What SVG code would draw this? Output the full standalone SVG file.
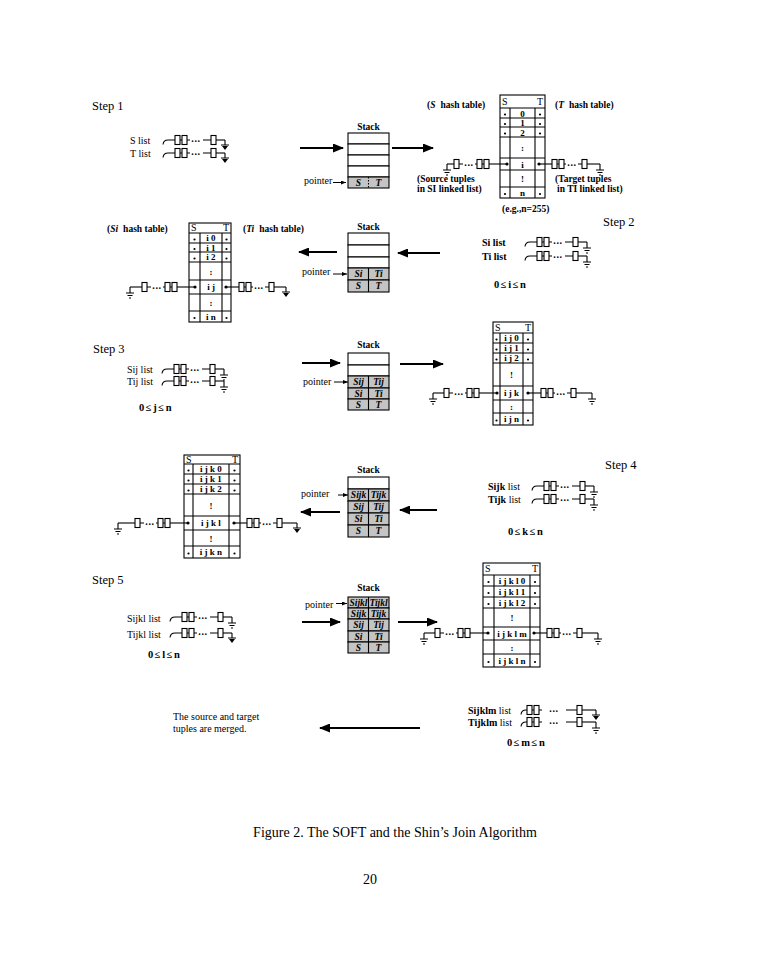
<svg xmlns="http://www.w3.org/2000/svg" width="760" height="977" viewBox="0 0 760 977">
<style>
 text{font-family:"Liberation Serif","Times New Roman",serif;fill:#000}
 .st{font-size:12.5px}
 .l{font-size:10px}
 .b{font-weight:bold}
 .ln{stroke:#000;stroke-width:1.1;fill:none}
 .cell{fill:#fff;stroke:#000;stroke-width:1.1}
 .sh{fill:#c4c4c4;stroke:#000;stroke-width:1.1}
 .tc{font-size:9px;font-weight:bold;text-anchor:middle}
 .sc{font-size:9.5px;font-weight:bold;font-style:italic;text-anchor:middle}
 .ar{stroke:#000;stroke-width:2;fill:none;marker-end:url(#ah)}
 .pa{stroke:#000;stroke-width:1;fill:none;marker-end:url(#sah)}
 .dt{font-size:10px;font-weight:bold;text-anchor:middle;letter-spacing:0.6px}
 .dot{fill:#000}
 .rng{font-size:10.5px;font-weight:bold;letter-spacing:1.6px}
</style>
<defs>
 <marker id="ah" markerUnits="userSpaceOnUse" markerWidth="11" markerHeight="9" refX="10" refY="4.5" orient="auto"><path d="M0,0 L11,4.5 L0,9 Z" fill="#000"/></marker>
 <marker id="sah" markerUnits="userSpaceOnUse" markerWidth="5" markerHeight="4" refX="5" refY="2" orient="auto"><path d="M0,0 L5,2 L0,4 Z" fill="#000"/></marker>
 <g id="li" class="ln">
  <path d="M0,4.5 Q0.5,0 5,0 H12"/>
  <rect x="12" y="-4.5" width="5" height="9"/>
  <path d="M17,0 H19"/>
  <rect x="19" y="-4.5" width="5" height="9"/>
  <path d="M24,0 H27 M40,0 H48"/>
  <rect x="48" y="-4.5" width="5" height="9"/>
  <path d="M53,0 H62"/>
 </g>
 <g id="liw" class="ln">
  <path d="M0,4.5 Q0.5,0 5,0 H6"/>
  <rect x="6" y="-4.5" width="5" height="9"/>
  <path d="M11,0 H13"/>
  <rect x="13" y="-4.5" width="5" height="9"/>
  <path d="M18,0 H21 M45,0 H56"/>
  <rect x="56" y="-4.5" width="5" height="9"/>
  <path d="M61,0 H75"/>
 </g>
 <g id="gL" class="ln"><path d="M0,0 V6 M-4,6 H4 M-2.5,8.5 H2.5 M-1,11 H1"/></g>
 <g id="gT"><path class="ln" d="M0,0 V5 M-4,5 H4"/><path d="M-3,6 H3 L0,10 Z" fill="#000"/></g>
 <g id="cl">
  <circle r="1.6" fill="#000"/>
  <g class="ln">
   <path d="M0,0 H-18"/>
   <rect x="-23" y="-4.5" width="5" height="9"/>
   <path d="M-23,0 H-25"/>
   <rect x="-30" y="-4.5" width="5" height="9"/>
   <path d="M-30,0 H-32 M-44,0 H-48"/>
   <rect x="-53" y="-4.5" width="5" height="9"/>
  </g>
 </g>
 <g id="cr">
  <circle r="1.6" fill="#000"/>
  <g class="ln">
   <path d="M0,0 H13"/>
   <rect x="13" y="-4.5" width="5" height="9"/>
   <path d="M18,0 H20"/>
   <rect x="20" y="-4.5" width="5" height="9"/>
   <path d="M25,0 H27 M39,0 H43"/>
   <rect x="43" y="-4.5" width="5" height="9"/>
  </g>
 </g>
</defs>
<rect width="760" height="977" fill="#fff"/>

<!-- ===== Step 1 ===== -->
<g id="step1-label"><text class="st" x="92" y="110">Step 1</text></g>
<g id="step1-lists">
 <text class="l" x="130" y="143.5">S list</text>
 <use href="#li" x="163" y="140"/><use href="#gT" x="225" y="140"/><text class="dt" x="196" y="141.5">...</text>
 <text class="l" x="130" y="156.5">T list</text>
 <use href="#li" x="163" y="153"/><use href="#gT" x="225" y="153"/><text class="dt" x="196" y="154.5">...</text>
</g>
<g id="stack1">
 <text class="b" x="368.5" y="130" font-size="9.5" text-anchor="middle">Stack</text>
 <rect class="cell" x="348" y="133" width="41" height="11"/>
 <rect class="cell" x="348" y="144" width="41" height="11"/>
 <rect class="cell" x="348" y="155" width="41" height="11"/>
 <rect class="cell" x="348" y="166" width="41" height="11"/>
 <rect class="sh" x="348" y="177" width="41" height="11"/>
 <path class="ln" d="M368.5,177V188" stroke-dasharray="1.5,1.5"/>
 <text class="sc" x="358.5" y="185.8">S</text><text class="sc" x="378.5" y="185.8">T</text>
 <text class="l" x="304" y="184" font-size="9.5">pointer</text>
</g>
<g id="hash1">
 <text class="b" x="427" y="108" font-size="9.5">(<tspan font-style="italic">S</tspan><tspan dx="5">hash table)</tspan></text>
 <text class="b" x="555" y="108" font-size="9.5">(<tspan font-style="italic">T</tspan><tspan dx="5">hash table)</tspan></text>
 <rect class="cell" x="500" y="95" width="45" height="103"/>
 <path class="ln" d="M500,108H545 M500,118H545 M500,127H545 M500,137H545 M500,158H545 M500,170H545 M500,187H545 M510,108V198 M535,108V198"/>
 <text class="l" x="502" y="105">S</text><text class="l" x="543" y="105" text-anchor="end">T</text>
 <text class="tc" x="522.5" y="116.5" font-size="10">0</text>
 <text class="tc" x="522.5" y="126" font-size="10">1</text>
 <text class="tc" x="522.5" y="135.5" font-size="10">2</text>
 <text class="tc" x="522.5" y="151" font-size="10">:</text>
 <text class="tc" x="522.5" y="167.5" font-size="10">i</text>
 <text class="tc" x="522.5" y="182" font-size="10">!</text>
 <text class="tc" x="522.5" y="196" font-size="10">n</text>
 <g class="dot"><circle cx="505" cy="114.5" r="1.1"/><circle cx="540" cy="114.5" r="1.1"/><circle cx="505" cy="124" r="1.1"/><circle cx="540" cy="124" r="1.1"/><circle cx="505" cy="133.5" r="1.1"/><circle cx="540" cy="133.5" r="1.1"/><circle cx="505" cy="194" r="1.1"/><circle cx="540" cy="194" r="1.1"/></g>
 <use href="#cl" x="507" y="164"/><path class="ln" d="M454,164H447"/><use href="#gL" x="447" y="164"/><text class="dt" x="469" y="165.5">...</text>
 <use href="#cr" x="539" y="164"/><path class="ln" d="M587,164H600"/><use href="#gL" x="600" y="164"/><text class="dt" x="572" y="165.5">...</text>
 <text class="b" x="417" y="181.5" font-size="9.5">(Source tuples</text>
 <text class="b" x="417" y="191.5" font-size="9.5">in SI linked list)</text>
 <text class="b" x="555" y="181.5" font-size="9.5">(Target tuples</text>
 <text class="b" x="557" y="191.5" font-size="9.5">in TI linked list)</text>
 <text class="b" x="502" y="212" font-size="9.5">(e.g.,n=255)</text>
</g>

<!-- ===== Step 2 ===== -->
<g id="step2-label"><text class="st" x="603" y="226">Step 2</text></g>
<g id="step2-lists">
 <text class="l b" x="482" y="245.5">Si  list</text>
 <use href="#li" x="525" y="242"/><use href="#gL" x="587" y="242"/><text class="dt" x="558" y="243.5">...</text>
 <text class="l b" x="482" y="259.5">Ti  list</text>
 <use href="#li" x="525" y="256"/><use href="#gL" x="587" y="256"/><text class="dt" x="558" y="257.5">...</text>
 <text class="rng" x="494" y="288">0≤i≤n</text>
</g>
<g id="stack2">
 <text class="b" x="368.5" y="230" font-size="9.5" text-anchor="middle">Stack</text>
 <rect class="cell" x="348" y="233" width="41" height="12"/>
 <rect class="cell" x="348" y="245" width="41" height="12"/>
 <rect class="cell" x="348" y="257" width="41" height="11"/>
 <rect class="sh" x="348" y="268" width="41" height="12"/>
 <rect class="sh" x="348" y="280" width="41" height="12"/>
 <path class="ln" d="M368.5,268V292"/>
 <text class="sc" x="358.5" y="277.3">Si</text><text class="sc" x="378.5" y="277.3">Ti</text>
 <text class="sc" x="358.5" y="289.3">S</text><text class="sc" x="378.5" y="289.3">T</text>
 <text class="l" x="302" y="275" font-size="9.5">pointer</text>
</g>
<g id="hash2">
 <text class="b" x="107" y="232" font-size="9.5">(<tspan font-style="italic">Si</tspan><tspan dx="5">hash table)</tspan></text>
 <text class="b" x="243" y="232" font-size="9.5">(<tspan font-style="italic">Ti</tspan><tspan dx="5">hash table)</tspan></text>
 <rect class="cell" x="189" y="223" width="42" height="99"/>
 <path class="ln" d="M189,233H231 M189,243H231 M189,252H231 M189,262H231 M189,280H231 M189,294H231 M189,311H231 M200,233V322 M222,233V322"/>
 <text class="l" x="191" y="231">S</text><text class="l" x="229" y="231" text-anchor="end">T</text>
 <text class="tc" x="211" y="241.3">i 0</text>
 <text class="tc" x="211" y="250.8">i 1</text>
 <text class="tc" x="211" y="260.3">i 2</text>
 <text class="tc" x="211" y="274.5">:</text>
 <text class="tc" x="211" y="290.3">i j</text>
 <text class="tc" x="211" y="306">:</text>
 <text class="tc" x="211" y="319.8">i n</text>
 <g class="dot"><circle cx="194.5" cy="239.5" r="1.1"/><circle cx="226.5" cy="239.5" r="1.1"/><circle cx="194.5" cy="249" r="1.1"/><circle cx="226.5" cy="249" r="1.1"/><circle cx="194.5" cy="258.5" r="1.1"/><circle cx="226.5" cy="258.5" r="1.1"/><circle cx="194.5" cy="318" r="1.1"/><circle cx="226.5" cy="318" r="1.1"/></g>
 <use href="#cl" x="195" y="287"/><path class="ln" d="M142,287H130"/><use href="#gL" x="130" y="287"/><text class="dt" x="157" y="288.5">...</text>
 <use href="#cr" x="226" y="287"/><path class="ln" d="M274,287H286"/><use href="#gT" x="286" y="287"/><text class="dt" x="259" y="288.5">...</text>
</g>

<!-- ===== Step 3 ===== -->
<g id="step3-label"><text class="st" x="93" y="353">Step 3</text></g>
<g id="step3-lists">
 <text class="l" x="127" y="372.5">Sij list</text>
 <use href="#li" x="162" y="369"/><use href="#gL" x="224" y="369"/><text class="dt" x="195" y="370.5">...</text>
 <text class="l" x="127" y="385">Tij list</text>
 <use href="#li" x="162" y="381"/><use href="#gL" x="224" y="381"/><text class="dt" x="195" y="382.5">...</text>
 <text class="rng" x="139" y="411">0≤j≤n</text>
</g>
<g id="stack3">
 <text class="b" x="368.5" y="348" font-size="9.5" text-anchor="middle">Stack</text>
 <rect class="cell" x="348" y="353" width="41" height="12"/>
 <rect class="cell" x="348" y="365" width="41" height="11"/>
 <rect class="sh" x="348" y="376" width="41" height="12"/>
 <rect class="sh" x="348" y="388" width="41" height="11"/>
 <rect class="sh" x="348" y="399" width="41" height="11"/>
 <path class="ln" d="M368.5,376V410"/>
 <text class="sc" x="358.5" y="385.3">Sij</text><text class="sc" x="378.5" y="385.3">Tij</text>
 <text class="sc" x="358.5" y="396.8">Si</text><text class="sc" x="378.5" y="396.8">Ti</text>
 <text class="sc" x="358.5" y="407.8">S</text><text class="sc" x="378.5" y="407.8">T</text>
 <text class="l" x="303" y="384.5" font-size="9.5">pointer</text>
</g>
<g id="hash3">
 <rect class="cell" x="493" y="322" width="40" height="103"/>
 <path class="ln" d="M493,333H533 M493,343H533 M493,353H533 M493,363H533 M493,386H533 M493,400H533 M493,413H533 M500,333V425 M523,333V425"/>
 <text class="l" x="495" y="330.5">S</text><text class="l" x="531" y="330.5" text-anchor="end">T</text>
 <text class="tc" x="511.5" y="341">i j 0</text>
 <text class="tc" x="511.5" y="351">i j 1</text>
 <text class="tc" x="511.5" y="361">i j 2</text>
 <text class="tc" x="511.5" y="378">!</text>
 <text class="tc" x="511.5" y="396">i j k</text>
 <text class="tc" x="511.5" y="409.5">:</text>
 <text class="tc" x="511.5" y="422">i j n</text>
 <g class="dot"><circle cx="496.5" cy="339.5" r="1.1"/><circle cx="528" cy="339.5" r="1.1"/><circle cx="496.5" cy="349.5" r="1.1"/><circle cx="528" cy="349.5" r="1.1"/><circle cx="496.5" cy="359.5" r="1.1"/><circle cx="528" cy="359.5" r="1.1"/><circle cx="496.5" cy="420.5" r="1.1"/><circle cx="528" cy="420.5" r="1.1"/></g>
 <use href="#cl" x="497" y="393"/><path class="ln" d="M444,393H433"/><use href="#gL" x="433" y="393"/><text class="dt" x="459" y="394.5">...</text>
 <use href="#cr" x="528" y="393"/><path class="ln" d="M576,393H592"/><use href="#gL" x="592" y="393"/><text class="dt" x="561" y="394.5">...</text>
</g>

<!-- ===== Step 4 ===== -->
<g id="step4-label"><text class="st" x="605" y="469">Step 4</text></g>
<g id="step4-lists">
 <text class="l" x="488" y="489.5"><tspan class="b">Sijk</tspan> list</text>
 <use href="#li" x="532" y="486"/><use href="#gL" x="594" y="486"/><text class="dt" x="565" y="487.5">...</text>
 <text class="l" x="488" y="502.5"><tspan class="b">Tijk</tspan> list</text>
 <use href="#li" x="532" y="499"/><use href="#gL" x="594" y="499"/><text class="dt" x="565" y="500.5">...</text>
 <text class="rng" x="508" y="535">0≤k≤n</text>
</g>
<g id="stack4">
 <text class="b" x="368.5" y="473" font-size="9.5" text-anchor="middle">Stack</text>
 <rect class="cell" x="348" y="477" width="41" height="12"/>
 <rect class="sh" x="348" y="489" width="41" height="12"/>
 <rect class="sh" x="348" y="501" width="41" height="12"/>
 <rect class="sh" x="348" y="513" width="41" height="12"/>
 <rect class="sh" x="348" y="525" width="41" height="12"/>
 <path class="ln" d="M368.5,489V537"/>
 <text class="sc" x="358.5" y="498.3">Sijk</text><text class="sc" x="378.5" y="498.3">Tijk</text>
 <text class="sc" x="358.5" y="510.3">Sij</text><text class="sc" x="378.5" y="510.3">Tij</text>
 <text class="sc" x="358.5" y="522.3">Si</text><text class="sc" x="378.5" y="522.3">Ti</text>
 <text class="sc" x="358.5" y="534.3">S</text><text class="sc" x="378.5" y="534.3">T</text>
 <text class="l" x="301" y="497" font-size="9.5">pointer</text>
</g>
<g id="hash4">
 <rect class="cell" x="184" y="455" width="56" height="103"/>
 <path class="ln" d="M184,464H240 M184,474H240 M184,484H240 M184,494H240 M184,516H240 M184,530H240 M184,546H240 M193,464V558 M229,464V558"/>
 <text class="l" x="186" y="462.5">S</text><text class="l" x="238" y="462.5" text-anchor="end">T</text>
 <text class="tc" x="211" y="472.3">i j k 0</text>
 <text class="tc" x="211" y="482.3">i j k 1</text>
 <text class="tc" x="211" y="492.3">i j k 2</text>
 <text class="tc" x="211" y="508.5">!</text>
 <text class="tc" x="211" y="526.3">i j k l</text>
 <text class="tc" x="211" y="541.5">!</text>
 <text class="tc" x="211" y="555.3">i j k n</text>
 <g class="dot"><circle cx="188.5" cy="470.5" r="1.1"/><circle cx="234.5" cy="470.5" r="1.1"/><circle cx="188.5" cy="480.5" r="1.1"/><circle cx="234.5" cy="480.5" r="1.1"/><circle cx="188.5" cy="490.5" r="1.1"/><circle cx="234.5" cy="490.5" r="1.1"/><circle cx="188.5" cy="553.5" r="1.1"/><circle cx="234.5" cy="553.5" r="1.1"/></g>
 <use href="#cl" x="188" y="523"/><path class="ln" d="M135,523H118"/><use href="#gL" x="118" y="523"/><text class="dt" x="150" y="524.5">...</text>
 <use href="#cr" x="234" y="523"/><path class="ln" d="M282,523H297"/><use href="#gT" x="297" y="523"/><text class="dt" x="267" y="524.5">...</text>
</g>

<!-- ===== Step 5 ===== -->
<g id="step5-label"><text class="st" x="92" y="584">Step 5</text></g>
<g id="step5-lists">
 <text class="l" x="127" y="621.5">Sijkl list</text>
 <use href="#li" x="170" y="617"/><use href="#gL" x="232" y="617"/><text class="dt" x="203" y="618.5">...</text>
 <text class="l" x="127" y="637.5">Tijkl list</text>
 <use href="#li" x="170" y="633"/><use href="#gT" x="232" y="633"/><text class="dt" x="203" y="634.5">...</text>
 <text class="rng" x="148" y="658">0≤l≤n</text>
</g>
<g id="stack5">
 <text class="b" x="368.5" y="591" font-size="9.5" text-anchor="middle">Stack</text>
 <rect class="sh" x="348" y="597" width="41" height="11"/>
 <rect class="sh" x="348" y="608" width="41" height="11"/>
 <rect class="sh" x="348" y="619" width="41" height="12"/>
 <rect class="sh" x="348" y="631" width="41" height="11"/>
 <rect class="sh" x="348" y="642" width="41" height="11"/>
 <path class="ln" d="M368.5,597V653"/>
 <text class="sc" x="358.5" y="605.8" font-size="8.5">Sijkl</text><text class="sc" x="378.5" y="605.8" font-size="8.5">Tijkl</text>
 <text class="sc" x="358.5" y="616.8">Sijk</text><text class="sc" x="378.5" y="616.8">Tijk</text>
 <text class="sc" x="358.5" y="628.3">Sij</text><text class="sc" x="378.5" y="628.3">Tij</text>
 <text class="sc" x="358.5" y="639.8">Si</text><text class="sc" x="378.5" y="639.8">Ti</text>
 <text class="sc" x="358.5" y="650.8">S</text><text class="sc" x="378.5" y="650.8">T</text>
 <text class="l" x="305" y="608" font-size="9.5">pointer</text>
</g>
<g id="hash5">
 <rect class="cell" x="483" y="563" width="57" height="104"/>
 <path class="ln" d="M483,575H540 M483,586H540 M483,597H540 M483,608H540 M483,627H540 M483,640H540 M483,654H540 M494,575V667 M530,575V667"/>
 <text class="l" x="485" y="572">S</text><text class="l" x="538" y="572" text-anchor="end">T</text>
 <text class="tc" x="512" y="583.8">i j k l 0</text>
 <text class="tc" x="512" y="594.8">i j k l 1</text>
 <text class="tc" x="512" y="605.8">i j k l 2</text>
 <text class="tc" x="512" y="621">!</text>
 <text class="tc" x="512" y="636.8">i j k l m</text>
 <text class="tc" x="512" y="650.5">:</text>
 <text class="tc" x="512" y="663.8">i j k l n</text>
 <g class="dot"><circle cx="488.5" cy="582" r="1.1"/><circle cx="535" cy="582" r="1.1"/><circle cx="488.5" cy="593" r="1.1"/><circle cx="535" cy="593" r="1.1"/><circle cx="488.5" cy="604" r="1.1"/><circle cx="535" cy="604" r="1.1"/><circle cx="488.5" cy="662" r="1.1"/><circle cx="535" cy="662" r="1.1"/></g>
 <use href="#cl" x="488" y="633"/><path class="ln" d="M435,633H424"/><use href="#gL" x="424" y="633"/><text class="dt" x="450" y="634.5">...</text>
 <use href="#cr" x="534" y="633"/><path class="ln" d="M582,633H598"/><use href="#gL" x="598" y="633"/><text class="dt" x="567" y="634.5">...</text>
</g>

<!-- ===== Final ===== -->
<g id="merged"><text class="l" x="173" y="720">The source and target</text><text class="l" x="173" y="731.5">tuples are merged.</text></g>
<g id="final-lists">
 <text class="l" x="468" y="713.5" font-size="9"><tspan class="b">Sijklm</tspan> list</text>
 <use href="#liw" x="521" y="710"/><use href="#gT" x="596" y="710"/><text class="dt" x="554" y="711.5">...</text>
 <text class="l" x="468" y="725.5" font-size="9"><tspan class="b">Tijklm</tspan> list</text>
 <use href="#liw" x="521" y="722"/><use href="#gL" x="596" y="722"/><text class="dt" x="554" y="723.5">...</text>
 <text class="rng" x="507" y="746">0≤m≤n</text>
</g>

<!-- ===== Connectors ===== -->
<g id="connectors">
 <path class="ar" d="M300,148H343"/>
 <path class="ar" d="M392,148H433"/>
 <path class="ar" d="M440,253H398"/>
 <path class="ar" d="M337,252H299"/>
 <path class="ar" d="M302,363H340"/>
 <path class="ar" d="M400,364H443"/>
 <path class="ar" d="M437,510H400"/>
 <path class="ar" d="M340,512H301"/>
 <path class="ar" d="M302,622H340"/>
 <path class="ar" d="M398,622H437"/>
 <path class="ar" d="M420,728H320"/>
 <path class="pa" d="M333,182.5H346"/>
 <path class="pa" d="M333,274H347"/>
 <path class="pa" d="M334,382H348"/>
 <path class="pa" d="M338,495H348"/>
 <path class="pa" d="M336,603.5H347"/>
</g>

<g id="caption">
 <text x="395" y="837" font-size="14" text-anchor="middle">Figure 2. The SOFT and the Shin’s Join Algorithm</text>
 <text x="370" y="884" font-size="14" text-anchor="middle">20</text>
</g>
</svg>
